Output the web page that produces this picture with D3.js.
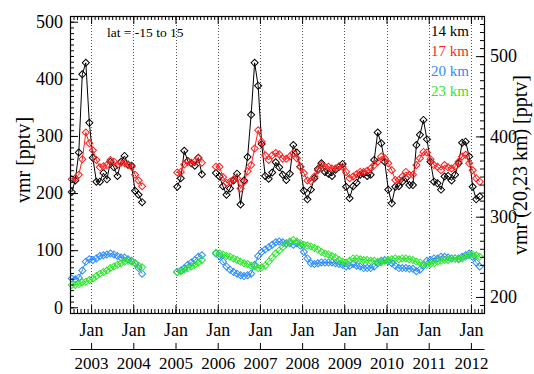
<!DOCTYPE html>
<html>
<head>
<meta charset="utf-8">
<script src="https://cdn.jsdelivr.net/npm/d3@7"></script>
<style>
    body { margin: 0; background: #fff; }
    svg { display: block; font-family: "Liberation Serif", "Times New Roman", serif; }
</style>
</head>
<body>
<svg id="chart" width="534" height="374"></svg>
<script>
// monthly means, first value = Jul 2002, last = Mar 2012 (null = no data)
const startYear = 2002, startMonth = 7;

const vmr14 = [202, 222, 271, 408, 428, 323, 262, 220, 220, 235, 224, 255, 245, 230, 255, 265, 250, 248, 204, 197, 184,
    null, null, null, null, null, null, null, null, null,
    211, 226, 274, 256, 252, 248, 262, 233,
    null, null, null,
    235, 229, 212, 197, 208, 222, 234, 180, 222, 263, 337, 428, 388, 286, 230, 225,
    236, 254, 245, 232, 223, 234, 284, 271, 246, 204, 189, 206, 226, 242, 252, 237, 234, 230, 241, 246,
    251, 211, 191, 212, 218, 232, 234, 230, 232, 258, 306, 287, 255, 206, 182, 211, 212, 220, 226, 214,
    214, 284, 302, 328, 294, 255, 220, 217, 206, 229, 230, 222, 232, 252, 288, 290, 264, 211, 189, 194];

const vmr17 = [224, 226, 232, 259, 306, 287, 275, 258, 245, 247, 249, 258, 255, 249, 253, 252, 249, 246, 232, 222, 212,
    null, null, null, null, null, null, null, null, null,
    236, 237, 250, 255, 253, 255, 261, 253,
    null, null, null,
    246, 246, 228, 218, 220, 224, 226, 208, 220, 238, 249, 278, 310, 290, 266, 258,
    266, 270, 268, 260, 260, 264, 270, 261, 246, 235, 222, 221, 229, 240, 249, 246, 246, 243, 243, 247,
    246, 237, 226, 229, 233, 237, 237, 239, 243, 249, 255, 264, 261, 252, 240, 223, 223, 229, 237, 232,
    232, 249, 261, 272, 271, 259, 249, 246, 240, 249, 245, 243, 246, 255, 264, 267, 252, 240, 226, 220];

// 20 and 23 km are read on the right axis
const vmr20 = [223, 222, 224, 233, 244, 247, 246, 248, 251, 252, 253, 254, 253, 251, 249, 249, 247, 245, 242, 236, 229,
    null, null, null, null, null, null, null, null, null,
    231, 233, 236, 240, 243, 246, 250, 252,
    null, null, null,
    254, 251, 244, 238, 234, 231, 229, 227, 226, 227, 229, 240, 251, 256, 259, 262,
    265, 268, 269, 268, 267, 267, 265, 267, 264, 256, 248, 242, 241, 242, 243, 243, 243, 243, 242, 241,
    240, 238, 239, 241, 239, 238, 236, 236, 236, 238, 242, 245, 246, 244, 242, 239, 236, 236, 236, 235,
    235, 232, 234, 239, 245, 246, 248, 248, 250, 250, 249, 248, 248, 248, 250, 252, 254, 250, 243, 238];

const vmr23 = [215, 215, 216, 218, 219, 221, 223, 226, 229, 231, 233, 236, 238, 240, 242, 244, 245, 244, 242, 239, 237,
    null, null, null, null, null, null, null, null, null,
    231, 232, 234, 236, 238, 240, 243, 246,
    null, null, null,
    255, 254, 253, 251, 250, 248, 246, 244, 242, 241, 239, 238, 236, 237, 239, 244,
    249, 254, 258, 262, 266, 269, 271, 269, 267, 265, 264, 263, 261, 259, 256, 254, 253, 251, 249, 246,
    244, 243, 245, 248, 248, 247, 246, 246, 245, 245, 244, 243, 245, 246, 247, 248, 247, 248, 248, 247,
    246, 244, 243, 241, 240, 241, 242, 244, 245, 246, 246, 248, 248, 247, 248, 250, 252, 253, 252, 250];

const seriesNames = ["14 km", "17 km", "20 km", "23 km"];
const seriesColors = ["#000000", "#ff1f1f", "#2b8cff", "#2ee62e"];
const leftTicks = [0, 100, 200, 300, 400, 500];
const rightTicks = [200, 300, 400, 500];
const years = [2003, 2004, 2005, 2006, 2007, 2008, 2009, 2010, 2011, 2012];
const regionLabel = "lat = -15 to 15";

const plotL = 70, plotR = 484, plotT = 16, plotB = 313;
const serif = '"Liberation Serif", "Times New Roman", serif';

const svg = d3.select("#chart");

const x = d3.scaleLinear().domain([2002.5, 2012.31]).range([plotL, plotR]);
const yL = d3.scaleLinear().domain([-10, 510]).range([plotB, plotT]);
const yR = d3.scaleLinear().domain([180, 550]).range([plotB, plotT]);

const monthTime = i => startYear + (startMonth - 1 + i + 0.5) / 12;
const monthTicks = d3.range(0, 130).map(k => startYear + k / 12)
    .filter(t => t >= x.domain()[0] && t <= x.domain()[1]);

const series = [
    {values: vmr14, y: yL},
    {values: vmr17, y: yL},
    {values: vmr20, y: yR},
    {values: vmr23, y: yR}
].map((s, k) => ({...s, name: seriesNames[k], color: seriesColors[k],
    points: s.values.map((v, i) => ({t: monthTime(i), v}))}));

// dotted January lines
svg.append("g").selectAll("line")
    .data(years)
    .join("line")
    .attr("x1", d => Math.round(x(d)) + 0.5)
    .attr("x2", d => Math.round(x(d)) + 0.5)
    .attr("y1", plotT)
    .attr("y2", plotB)
    .attr("stroke", "#555")
    .attr("stroke-width", 1)
    .attr("stroke-dasharray", "1,2");

// data
const marks = svg.append("g");
series.forEach(s => {
    const line = d3.line()
        .defined(d => d.v != null)
        .x(d => x(d.t))
        .y(d => s.y(d.v));
    const g = marks.append("g");
    g.append("path")
        .attr("d", line(s.points))
        .attr("fill", "none")
        .attr("stroke", s.color)
        .attr("stroke-width", 1);
    g.selectAll("path.pt")
        .data(s.points.filter(d => d.v != null))
        .join("path")
        .attr("class", "pt")
        .attr("d", d3.symbol(d3.symbolSquare, 25))
        .attr("transform", d => `translate(${x(d.t)},${s.y(d.v)}) rotate(45)`)
        .attr("fill", "none")
        .attr("stroke", s.color)
        .attr("stroke-width", 1);
});

// axes
const styleAxis = (g, size) => {
    g.select(".domain").remove();
    g.selectAll("text")
        .style("font-family", serif)
        .attr("font-size", size)
        .attr("fill", "#000");
    g.selectAll("line").attr("stroke", "#000");
};

svg.append("g").attr("transform", `translate(${plotL},0)`)
    .call(d3.axisLeft(yL).tickValues(d3.range(0, 510, 10)).tickSize(-4).tickFormat(""))
    .call(styleAxis, 18);
svg.append("g").attr("transform", `translate(${plotL},0)`)
    .call(d3.axisLeft(yL).tickValues(leftTicks).tickSize(-8).tickPadding(7))
    .call(styleAxis, 18);

svg.append("g").attr("transform", `translate(${plotR},0)`)
    .call(d3.axisRight(yR).tickValues(d3.range(190, 550, 10)).tickSize(-4).tickFormat(""))
    .call(styleAxis, 18);
svg.append("g").attr("transform", `translate(${plotR},0)`)
    .call(d3.axisRight(yR).tickValues(rightTicks).tickSize(-8).tickPadding(6))
    .call(styleAxis, 18);

[[d3.axisBottom, plotB], [d3.axisTop, plotT]].forEach(([axis, pos]) => {
    svg.append("g").attr("transform", `translate(0,${pos})`)
        .call(axis(x).tickValues(monthTicks).tickSize(-4).tickFormat(""))
        .call(styleAxis, 18);
    svg.append("g").attr("transform", `translate(0,${pos})`)
        .call(axis(x).tickValues(years).tickSize(-8).tickPadding(10)
            .tickFormat(pos === plotB ? () => "Jan" : () => ""))
        .call(styleAxis, 18);
});

// year axis below
const yearAxis = svg.append("g").attr("transform", "translate(0,349)")
    .call(d3.axisBottom(x).tickValues(years).tickSize(-6).tickSizeOuter(0)
        .tickPadding(8).tickFormat(d3.format("d")));
yearAxis.selectAll("text")
    .style("font-family", serif)
    .attr("font-size", 17).attr("fill", "#000");
yearAxis.selectAll("line").attr("stroke", "#000");
yearAxis.select(".domain").attr("stroke", "#000");

// frame
svg.append("rect")
    .attr("x", plotL + 0.5).attr("y", plotT + 0.5)
    .attr("width", plotR - plotL).attr("height", plotB - plotT)
    .attr("fill", "none").attr("stroke", "#000").attr("stroke-width", 1.2);

// titles
svg.append("text")
    .attr("transform", "translate(30,160) rotate(-90)")
    .attr("text-anchor", "middle")
    .style("font-family", serif)
    .attr("font-size", 20)
    .text("vmr [pptv]");
svg.append("text")
    .attr("transform", "translate(527,165) rotate(-90)")
    .attr("text-anchor", "middle")
    .style("font-family", serif)
    .attr("font-size", 20)
    .text("vmr (20,23 km) [pptv]");

svg.append("text")
    .attr("x", 107).attr("y", 37)
    .style("font-family", serif)
    .attr("font-size", 13.5)
    .text(regionLabel);

svg.append("g").selectAll("text")
    .data(series)
    .join("text")
    .attr("x", 469)
    .attr("y", (d, i) => 36 + i * 20)
    .attr("text-anchor", "end")
    .style("font-family", serif)
    .attr("font-size", 15)
    .attr("fill", d => d.color)
    .text(d => d.name);
</script>
</body>
</html>
